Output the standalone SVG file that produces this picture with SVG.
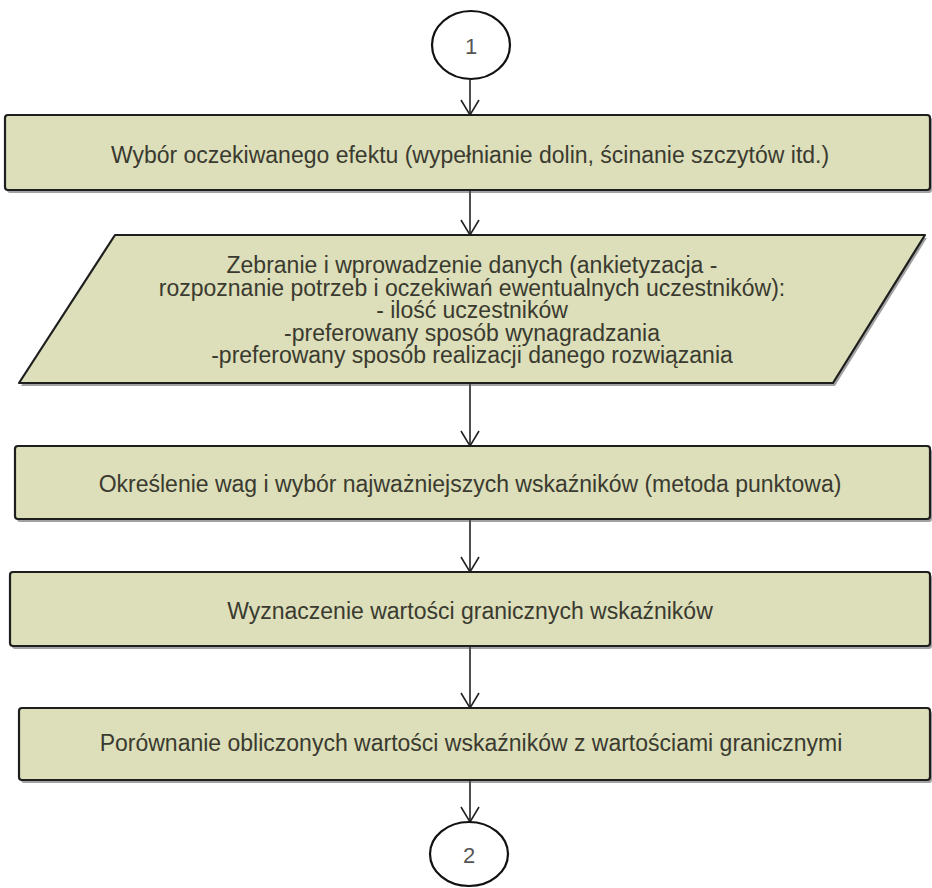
<svg xmlns="http://www.w3.org/2000/svg" width="932" height="888" viewBox="0 0 932 888">
<defs>
<style>
.box{fill:#dcdfb9;stroke:#1e1e1e;stroke-width:2.2;stroke-linejoin:round}
.shadow{fill:#555;opacity:0.55}
.lbl{font-family:"Liberation Sans",Arial,sans-serif;font-size:23px;fill:#3a3a30;text-anchor:middle;dominant-baseline:central}
.term{fill:#fff;stroke:#111;stroke-width:2.2}
.num{font-family:"Liberation Sans",Arial,sans-serif;font-size:22px;fill:#555;text-anchor:middle;dominant-baseline:central}
.conn{stroke:#222;stroke-width:1.6;fill:none;marker-end:url(#arr)}
</style>
<marker id="arr" markerUnits="userSpaceOnUse" markerWidth="20" markerHeight="22" viewBox="-16 -11 18 22" refX="0" refY="0" orient="auto" overflow="visible">
<path d="M-15,-9 L0,0 L-15,9" fill="none" stroke="#222" stroke-width="1.6"/>
</marker>
</defs>
<rect width="932" height="888" fill="#fff"/>
<g id="connectors">
<line class="conn" x1="470" y1="80" x2="470" y2="115"/>
<line class="conn" x1="470" y1="191" x2="470" y2="235"/>
<line class="conn" x1="470" y1="384" x2="470" y2="446"/>
<line class="conn" x1="470" y1="520" x2="470" y2="572"/>
<line class="conn" x1="470" y1="647" x2="470" y2="708"/>
<line class="conn" x1="470" y1="781" x2="470" y2="822"/>
</g>
<g id="start">
<ellipse class="term" cx="471" cy="45" rx="39" ry="34"/>
<text class="num" x="471" y="46">1</text>
</g>
<g id="step1">
<rect class="shadow" x="7" y="117" width="925" height="76" rx="3"/>
<rect class="box" x="5" y="115" width="925" height="75" rx="3"/>
<text class="lbl" x="470" y="155">Wybór oczekiwanego efektu (wypełnianie dolin, ścinanie szczytów itd.)</text>
</g>
<g id="step2">
<polygon class="shadow" points="117,238 927,238 835,386 21,386"/>
<polygon class="box" points="115,235 925,235 833,383 19,383"/>
<text class="lbl" x="472" y="265"><tspan x="472" y="265">Zebranie i wprowadzenie danych (ankietyzacja -</tspan><tspan x="472" dy="22.5">rozpoznanie potrzeb i oczekiwań ewentualnych uczestników):</tspan><tspan x="472" dy="22.5">- ilość uczestników</tspan><tspan x="472" dy="22.5">-preferowany sposób wynagradzania</tspan><tspan x="472" dy="22.5">-preferowany sposób realizacji danego rozwiązania</tspan></text>
</g>
<g id="step3">
<rect class="shadow" x="17" y="449" width="915" height="73" rx="3"/>
<rect class="box" x="15" y="446" width="915" height="73" rx="3"/>
<text class="lbl" x="470" y="484">Określenie wag i wybór najważniejszych wskaźników (metoda punktowa)</text>
</g>
<g id="step4">
<rect class="shadow" x="12" y="575" width="920" height="74" rx="3"/>
<rect class="box" x="10" y="572" width="920" height="74" rx="3"/>
<text class="lbl" x="470" y="611">Wyznaczenie wartości granicznych wskaźników</text>
</g>
<g id="step5">
<rect class="shadow" x="21" y="711" width="911" height="72" rx="3"/>
<rect class="box" x="19" y="708" width="911" height="72" rx="3"/>
<text class="lbl" x="471" y="743">Porównanie obliczonych wartości wskaźników z wartościami granicznymi</text>
</g>
<g id="end">
<ellipse class="term" cx="469" cy="854" rx="39" ry="32"/>
<text class="num" x="469" y="855">2</text>
</g>
</svg>
